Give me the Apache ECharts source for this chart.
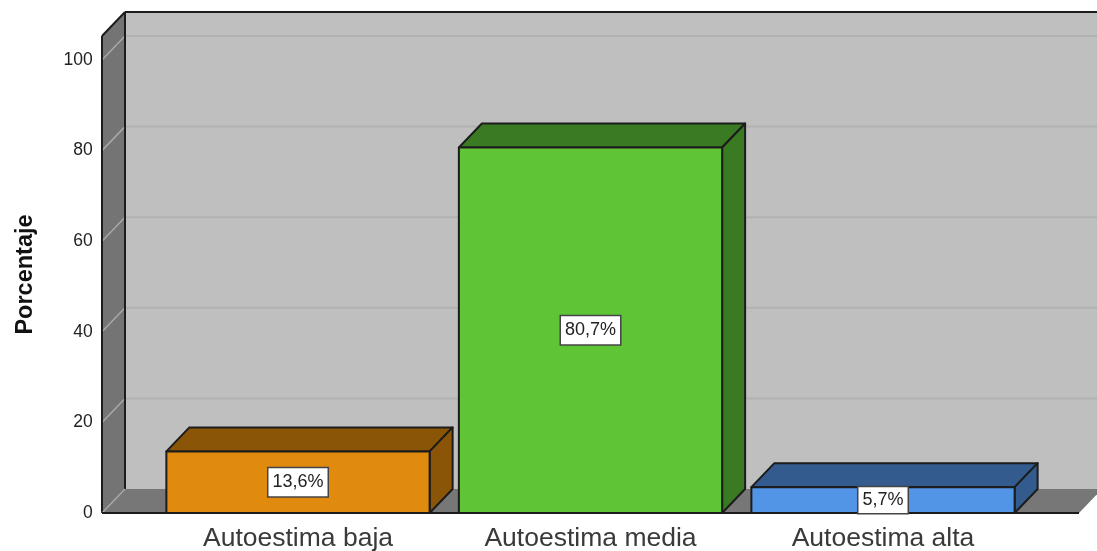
<!DOCTYPE html>
<html>
<head>
<meta charset="utf-8">
<style>html,body{margin:0;padding:0;background:#fff}#c{width:1097px;height:551px;filter:blur(0.4px)}</style>
<script src="https://cdn.jsdelivr.net/npm/echarts@6/dist/echarts.min.js"></script>
</head>
<body>
<div id="c"></div>
<script>
const categories = ['Autoestima baja', 'Autoestima media', 'Autoestima alta'];
const values = [13.6, 80.7, 5.7];
const valueLabels = ['13,6%', '80,7%', '5,7%'];
const yTicks = [0, 20, 40, 60, 80, 100];
const yTop = 105.3;
const frontColors = ['#e08a0e', '#5fc537', '#5294e6'];
const sideColors = ['#8a5507', '#3a7a22', '#335b8e'];

const DX = 23, DY = -24, OUT = 49.75, RIGHT = 49.75;
const LINE = '#1c1c1c';

const chart = echarts.init(document.getElementById('c'), null, {renderer: 'canvas'});

function poly(points, fill, stroke, lw) {
  return {type: 'polygon', shape: {points}, style: {fill, stroke: stroke || null, lineWidth: lw || 0, lineJoin: 'round'}};
}
function seg(x1, y1, x2, y2, stroke, lw) {
  return {type: 'line', shape: {x1, y1, x2, y2}, style: {stroke, lineWidth: lw, fill: null}};
}

function renderWalls(params, api) {
  const cs = params.coordSys;
  const xl = cs.x - OUT, xr = cs.x + cs.width + RIGHT;
  const y0 = api.coord([0, 0])[1], yt = api.coord([0, yTop])[1];
  const ch = [
    poly([[xl + DX, yt + DY], [xr + DX, yt + DY], [xr + DX, y0 + DY], [xl + DX, y0 + DY]], '#bfbfbf'),
    poly([[xl, y0], [xl + DX, y0 + DY], [xr + DX, y0 + DY], [xr, y0]], '#777777'),
    poly([[xl, yt], [xl + DX, yt + DY], [xl + DX, y0 + DY], [xl, y0]], '#747474')
  ];
  yTicks.slice(1).forEach(t => {
    const y = api.coord([0, t])[1];
    ch.push(seg(xl + DX, y + DY, xr + DX, y + DY, '#b2b2b2', 2));
    ch.push(seg(xl, y, xl + DX, y + DY, '#a8a8a8', 1.5));
  });
  ch.push(seg(xl, yt, xl + DX, yt + DY, LINE, 2));
  ch.push(seg(xl + DX, yt + DY, xr + DX, yt + DY, LINE, 2));
  ch.push(seg(xl, yt, xl, y0, LINE, 2));
  ch.push(seg(xl + DX, yt + DY, xl + DX, y0 + DY, LINE, 2));
  ch.push(seg(xl, y0, xl + DX, y0 + DY, '#a8a8a8', 1.5));
  ch.push(seg(xl, y0, xr, y0, LINE, 2));
  return {type: 'group', children: ch};
}

function renderBar(params, api) {
  const i = api.value(0), v = api.value(1);
  const c = api.coord([i, v]), b = api.coord([i, 0]);
  const half = api.size([1, 0])[0] * 0.45;
  const l = c[0] - half, r = c[0] + half, t = c[1], y0 = b[1];
  const idx = params.dataIndex;
  const s = sideColors[idx], f = frontColors[idx];
  const barH = y0 - t;
  const pad = Math.min(5, (barH - 18) / 2);
  return {type: 'group', children: [
    poly([[l, t], [l + DX, t + DY], [r + DX, t + DY], [r, t]], s, LINE, 2),
    poly([[r, t], [r + DX, t + DY], [r + DX, y0 + DY], [r, y0]], s, LINE, 2),
    poly([[l, t], [r, t], [r, y0], [l, y0]], f, LINE, 2),
    {type: 'text', x: c[0], y: (t + y0) / 2, style: {
      text: valueLabels[idx], x: 0, y: 0, align: 'center', verticalAlign: 'middle',
      font: '18px "Liberation Sans"', fill: '#222',
      backgroundColor: '#fff', borderColor: '#444', borderWidth: 1.5, padding: [pad + 0.5, 4, pad - 0.5, 4]
    }}
  ]};
}

chart.setOption({
  animation: false,
  grid: {left: 151.75, top: 36, width: 877.5, height: 477, containLabel: false, outerBoundsMode: 'none'},
  xAxis: {
    type: 'category', data: categories,
    axisLine: {show: false}, axisTick: {show: false}, splitLine: {show: false},
    axisLabel: {fontFamily: 'Liberation Sans', fontSize: 26.5, color: '#3a3a3a', margin: 12}
  },
  yAxis: {
    type: 'value', min: 0, max: yTop, interval: 20,
    name: 'Porcentaje', nameLocation: 'middle', nameGap: 114.5,
    nameTextStyle: {fontFamily: 'Liberation Sans', fontWeight: 'bold', fontSize: 23.5, color: '#111'},
    axisLine: {show: false}, axisTick: {show: false}, splitLine: {show: false},
    axisLabel: {fontFamily: 'Liberation Sans', fontSize: 17.5, color: '#222', margin: 59, showMaxLabel: false, padding: [4, 0, 0, 0]}
  },
  series: [
    {type: 'custom', silent: true, z: 1, data: [[0, 0]], encode: {x: 0, y: 1}, renderItem: renderWalls},
    {type: 'custom', silent: true, z: 2, data: values.map((v, i) => [i, v]), encode: {x: 0, y: 1}, renderItem: renderBar}
  ]
});
</script>
</body>
</html>
